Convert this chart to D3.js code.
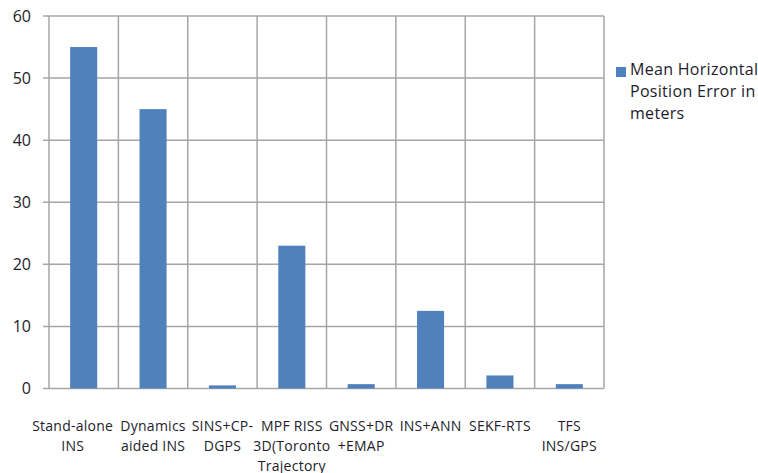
<!DOCTYPE html>
<html><head><meta charset="utf-8">
<script src="https://cdn.jsdelivr.net/npm/d3@7/dist/d3.min.js"></script>
<style>body{margin:0;background:#fff}svg{display:block}text{font-family:"Open Sans",sans-serif}</style>
</head><body><svg id="c" width="758" height="473"></svg>
<script>
const categories = ["Stand-alone\nINS","Dynamics\naided INS","SINS+CP-\nDGPS","MPF RISS\n3D(Toronto\nTrajectory","GNSS+DR\n+EMAP","INS+ANN","SEKF-RTS","TFS\nINS/GPS"];
const values = [55, 45, 0.5, 23, 0.7, 12.5, 2.1, 0.7];
const yTicks = [0,10,20,30,40,50,60];
const seriesName = ["Mean Horizontal","Position Error in","meters"];

const svg = d3.select("#c");
const L=49, R=604, T=16, B=388.5;
const x = d3.scaleBand().domain(categories).range([L,R]).paddingInner(0).paddingOuter(0);
const y = d3.scaleLinear().domain([0,60]).range([B,T]);
const grid="#a6a6a6", col="#4f81bd", txt="#231c2b";

svg.append("g").selectAll("line").data(yTicks).join("line")
 .attr("x1",L-6).attr("x2",R).attr("y1",d=>y(d)).attr("y2",d=>y(d))
 .attr("stroke",grid).attr("stroke-width",1.5);
const vx = categories.map(c=>x(c)).concat([R]);
svg.append("g").selectAll("line").data(vx).join("line")
 .attr("x1",d=>d).attr("x2",d=>d).attr("y1",T).attr("y2",B)
 .attr("stroke",grid).attr("stroke-width",1.5);

const bw = x.bandwidth()*0.39;
svg.append("g").selectAll("rect").data(values).join("rect")
 .attr("x",(d,i)=>x(categories[i])+x.bandwidth()/2-bw/2)
 .attr("width",bw)
 .attr("y",d=>y(d)).attr("height",d=>B-y(d))
 .attr("fill",col);

svg.append("g").selectAll("text").data(yTicks).join("text")
 .attr("x",31).attr("y",d=>y(d)).attr("dy","0.36em").attr("text-anchor","end")
 .attr("font-size",16).attr("fill",txt).text(d=>d);

const xl = svg.append("g").selectAll("text").data(categories).join("text")
 .attr("text-anchor","middle").attr("font-size",14).attr("letter-spacing",0.25).attr("fill",txt)
 .attr("transform",(d,i)=>`translate(${x(d)+x.bandwidth()/2-(i===0?11:0)},431)`);
xl.each(function(d){
  const t=d3.select(this);
  d.split("\n").forEach((s,i)=>t.append("tspan").attr("x",0).attr("y",i*20).text(s));
});

svg.append("rect").attr("x",616).attr("y",67).attr("width",10).attr("height",10).attr("fill",col);
svg.append("g").selectAll("text").data(seriesName).join("text")
 .attr("x",630).attr("y",(d,i)=>75+i*22)
 .attr("font-size",16).attr("letter-spacing",0.3).attr("fill",txt).text(d=>d);
</script></body></html>
